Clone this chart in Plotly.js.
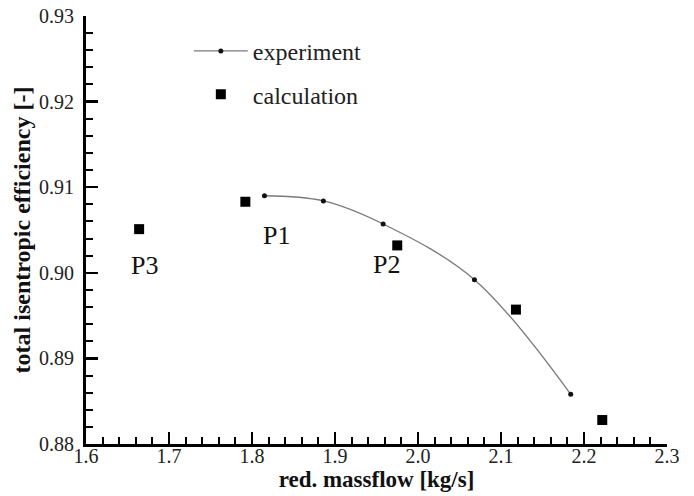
<!DOCTYPE html>
<html>
<head>
<meta charset="utf-8">
<script src="https://cdn.plot.ly/plotly-3.0.1.min.js"></script>
<style>html,body{margin:0;padding:0;background:#fff;}#chart{width:694px;height:496px;}</style>
</head>
<body>
<div id="chart"></div>
<script>
// Experiment (line with small dots)
const expMassflow = [1.815, 1.886, 1.958, 2.068, 2.184];
const expEfficiency = [0.9090, 0.9084, 0.9057, 0.8992, 0.8858];
// Calculation (squares)
const calcMassflow = [1.664, 1.792, 1.975, 2.118, 2.222];
const calcEfficiency = [0.9051, 0.9083, 0.9032, 0.8957, 0.8828];
// Point labels attached to calculation points (index into calc arrays)
const pointLabels = ['P3', 'P1', 'P2'];
const pointLabelIndex = [0, 1, 2];

const serif = 'Liberation Serif';
const labelShifts = [[5, -36], [31, -34], [-11, -19]];

const traces = [
  {
    x: expMassflow, y: expEfficiency, name: 'experiment',
    type: 'scatter', mode: 'lines+markers',
    line: {color: '#7a7a7a', width: 1.3, shape: 'spline', smoothing: 1},
    marker: {color: '#111', size: 5, symbol: 'circle'},
    legendgroup: 'a'
  },
  {
    x: calcMassflow, y: calcEfficiency, name: 'calculation',
    type: 'scatter', mode: 'markers',
    marker: {color: '#000', size: 10, symbol: 'square'},
    legendgroup: 'b'
  }
];

const annotations = pointLabelIndex.map((idx, k) => ({
  x: calcMassflow[idx], y: calcEfficiency[idx], xref: 'x', yref: 'y',
  text: pointLabels[k], showarrow: false,
  xshift: labelShifts[k][0], yshift: labelShifts[k][1],
  font: {family: serif, size: 26, color: '#111'}
}));

const layout = {
  width: 694, height: 496,
  margin: {l: 86, r: 27, t: 16, b: 52},
  paper_bgcolor: '#fff', plot_bgcolor: '#fff',
  font: {family: serif},
  showlegend: true,
  legend: {
    x: 0.177, y: 0.97, xanchor: 'left', yanchor: 'top',
    bgcolor: 'rgba(0,0,0,0)', borderwidth: 0,
    font: {family: serif, size: 24, color: '#222'},
    itemwidth: 54, tracegroupgap: 9
  },
  xaxis: {
    range: [1.6, 2.3], dtick: 0.1, tick0: 1.6, tickformat: '.1f',
    showgrid: false, zeroline: false, showline: true,
    linecolor: '#000', linewidth: 3, mirror: false,
    ticks: 'inside', ticklen: 12, tickwidth: 2.5, tickcolor: '#000',
    minor: {ticks: 'inside', dtick: 0.02, ticklen: 7, tickwidth: 2, tickcolor: '#000', showgrid: false},
    tickfont: {family: serif, size: 20, color: '#222'},
    ticklabelstandoff: -8,
    title: {text: '<b>red. massflow [kg/s]</b>', font: {family: serif, size: 23, color: '#111'}, standoff: 1}
  },
  yaxis: {
    range: [0.88, 0.93], dtick: 0.01, tick0: 0.88, tickformat: '.2f',
    showgrid: false, zeroline: false, showline: true,
    linecolor: '#000', linewidth: 3, mirror: false,
    ticks: 'inside', ticklen: 12, tickwidth: 2.5, tickcolor: '#000',
    minor: {ticks: 'inside', dtick: 0.002, ticklen: 7, tickwidth: 2, tickcolor: '#000', showgrid: false},
    tickfont: {family: serif, size: 20, color: '#222'},
    ticklabelstandoff: 5,
    title: {text: '<b>total isentropic efficiency [-]</b>', font: {family: serif, size: 24, color: '#111'}, standoff: 2}
  },
  annotations: annotations
};

Plotly.newPlot('chart', traces, layout, {staticPlot: true, displayModeBar: false});
</script>
</body>
</html>
